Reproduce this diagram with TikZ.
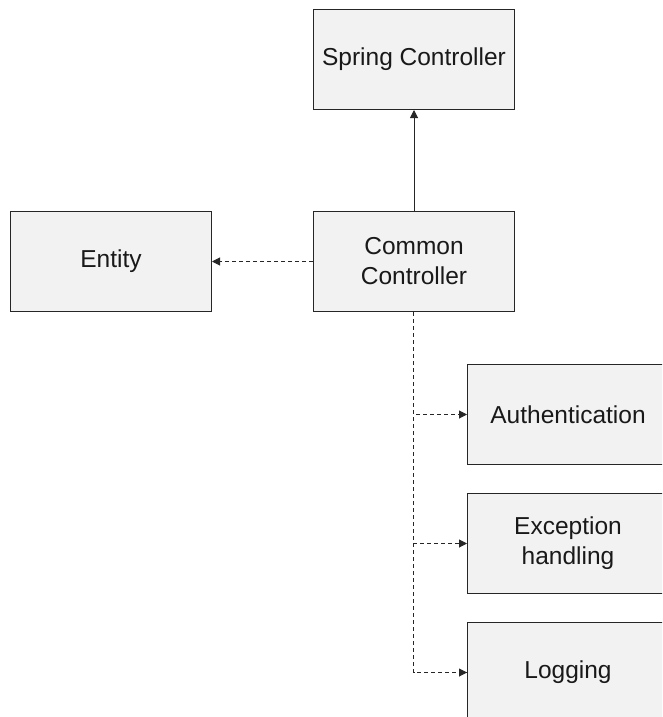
\documentclass[tikz,border=0pt]{standalone}
\usepackage{fontspec}
\setmainfont{Liberation Sans}
\usetikzlibrary{arrows.meta}
\begin{document}
\begin{tikzpicture}[x=1pt,y=-1pt,
  box/.style={draw=black!85, fill=black!5, line width=1pt, minimum width=201pt, minimum height=100pt,
    anchor=north west, align=center, inner sep=0pt, font=\fontsize{24.5pt}{30pt}\selectfont, text=black!90},
  solidarrow/.style={draw=black!85, line width=1pt, -{Triangle[length=8pt,width=8pt]}},
  dasharrow/.style={draw=black!85, line width=1pt, dash pattern=on 4pt off 3pt, -{Triangle[length=8pt,width=8pt]}},
  dashline/.style={draw=black!85, line width=1pt, dash pattern=on 4pt off 3pt}]
\useasboundingbox (0,0) rectangle (662,717);
\clip (0,0) rectangle (662,717);
\node[box] (spring) at (313,9) {Spring Controller};
\node[box] (common) at (313,211) {Common\\Controller};
\node[box] (entity) at (10,211) {Entity};
\node[box] (auth) at (467,364) {Authentication};
\node[box] (exc) at (467,493) {Exception\\handling};
\node[box] (log) at (467,622) {Logging};
\coordinate (trunk) at ([xshift=-0.5pt]common.south);
\draw[solidarrow] (common.north) -- (spring.south);
\draw[dasharrow] (common.west) -- (entity.east);
\draw[dashline] (trunk) |- ([yshift=0pt]log.west);
\draw[dasharrow] (trunk) |- (auth.west);
\draw[dasharrow] (trunk) |- (exc.west);
\draw[dasharrow] (trunk) |- (log.west);
\end{tikzpicture}
\end{document}
